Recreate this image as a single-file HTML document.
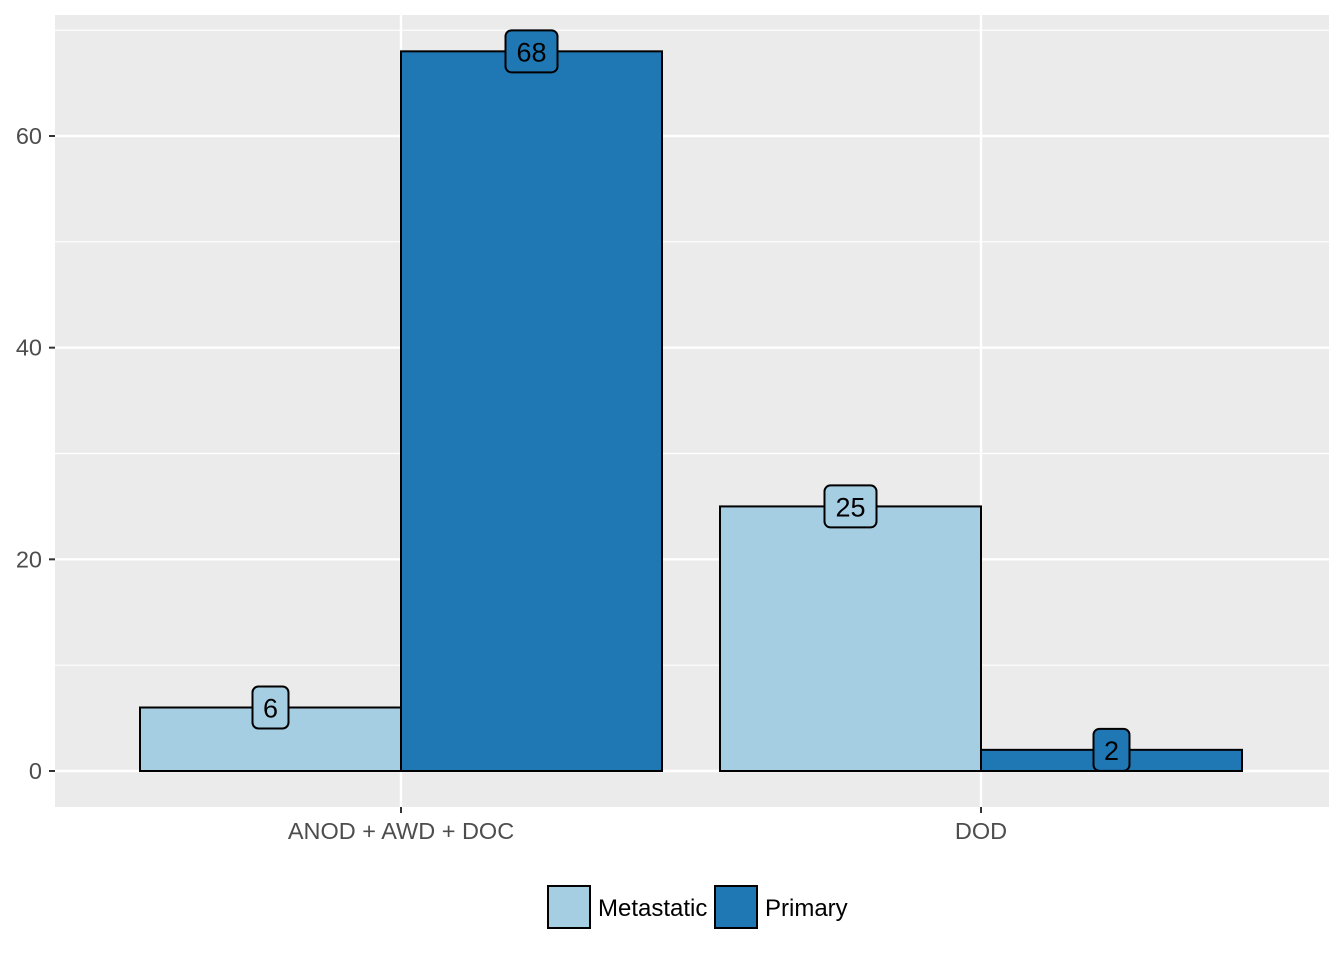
<!DOCTYPE html>
<html><head><meta charset="utf-8"><style>
body{margin:0;background:#fff;}
text{font-family:"Liberation Sans",sans-serif;}
</style></head><body>
<svg id="chart" width="1344" height="960" xmlns="http://www.w3.org/2000/svg">
<rect x="55" y="15" width="1274" height="792" fill="#ebebeb"/>
<g id="grid"></g>
<g id="bars"></g>
<g id="axes"></g>
<g id="legend">
<rect x="548" y="886" width="42" height="42" fill="#a6cee3" stroke="#000" stroke-width="2"/>
<text x="598" y="916" font-size="24">Metastatic</text>
<rect x="715" y="886" width="42" height="42" fill="#1f78b4" stroke="#000" stroke-width="2"/>
<text x="765" y="916" font-size="24">Primary</text>
</g>
</svg>
<script>
const categories=["ANOD + AWD + DOC","DOD"];
const metastatic=[6,25];
const primary=[68,2];
const seriesNames=["Metastatic","Primary"];
const colors=["#a6cee3","#1f78b4"];
const yTicks=[0,20,40,60];
const yMinor=[10,30,50,70];
const NS="http://www.w3.org/2000/svg";
const y=v=>771-v*(771-136)/60;
const xc=i=>401+i*580;
const bw=261;
function mk(tag,attrs,parent){const e=document.createElementNS(NS,tag);for(const k in attrs)e.setAttribute(k,attrs[k]);parent.appendChild(e);return e;}
const grid=document.getElementById('grid'),bars=document.getElementById('bars'),axes=document.getElementById('axes');
yMinor.forEach(v=>{const l=mk('line',{x1:55,x2:1329,y1:y(v),y2:y(v),stroke:'#fff','stroke-width':1.2},grid);

});
yTicks.forEach(v=>{const l=mk('line',{x1:55,x2:1329,y1:y(v),y2:y(v),stroke:'#fff','stroke-width':2.4},grid);


const t=mk('line',{x1:49,x2:55,y1:y(v),y2:y(v),stroke:'#333','stroke-width':2},axes);


const tx=mk('text',{x:42,y:y(v)+8,'text-anchor':'end','font-size':23.5,fill:'#4d4d4d'},axes);tx.textContent=v;

});
categories.forEach((c,i)=>{const l=mk('line',{x1:xc(i),x2:xc(i),y1:15,y2:807,stroke:'#fff','stroke-width':2.4},grid);


const t=mk('line',{x1:xc(i),x2:xc(i),y1:807,y2:813,stroke:'#333','stroke-width':2},axes);


const tx=mk('text',{x:xc(i),y:839,'text-anchor':'middle','font-size':23.5,fill:'#4d4d4d'},axes);tx.textContent=c;

});
[metastatic,primary].forEach((vals,s)=>{vals.forEach((v,i)=>{
const x0=s===0?xc(i)-bw:xc(i);
const r=mk('rect',{x:x0,y:y(v),width:bw,height:y(0)-y(v),fill:colors[s],stroke:'#000','stroke-width':2},bars);


});});
[metastatic,primary].forEach((vals,s)=>{vals.forEach((v,i)=>{
const cx=(s===0?xc(i)-bw:xc(i))+bw/2;
const w=String(v).length>1?52:36;
const b=mk('rect',{x:cx-w/2,y:y(v)-21,width:w,height:42,rx:6,fill:colors[s],stroke:'#000','stroke-width':2},bars);


const t=mk('text',{x:cx,y:y(v)+10,'text-anchor':'middle','font-size':27,fill:'#000'},bars);t.textContent=v;


});});
</script>
</body></html>
